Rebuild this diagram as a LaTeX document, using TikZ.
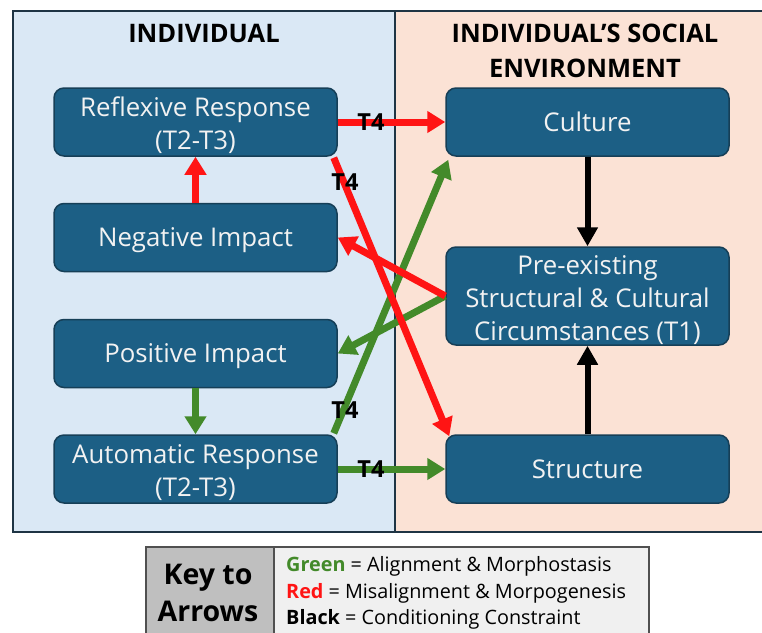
\documentclass[tikz,border=0pt]{standalone}
\usepackage{fontspec}
\setmainfont{Open Sans}
\usetikzlibrary{arrows.meta}

\definecolor{indivbg}{HTML}{DAE8F5}
\definecolor{socialbg}{HTML}{FBE2D5}
\definecolor{framecol}{HTML}{1E3444}
\definecolor{boxfill}{HTML}{1C5F85}
\definecolor{boxline}{HTML}{163F57}
\definecolor{boxtext}{HTML}{F2F2F2}
\definecolor{arrred}{HTML}{FF1414}
\definecolor{arrgreen}{HTML}{438A2A}
\definecolor{keygray}{HTML}{BFBFBF}
\definecolor{keylight}{HTML}{F0F0F0}
\definecolor{keyline}{HTML}{505050}

% invisible struts that lower box text a little
\newcommand{\lowerstrut}{\rule{0pt}{27pt}}
\newcommand{\smallstrut}{\rule{0pt}{25pt}}

\tikzset{
  stagebox/.style={draw=boxline, line width=1.5pt, fill=boxfill, rounded corners=10pt,
    text=boxtext, align=center, minimum width=283pt, minimum height=68pt,
    inner sep=0pt, font=\fontsize{25.8}{33}\selectfont},
  paneltitle/.style={font=\bfseries\fontsize{25.5}{35}\selectfont, align=center, inner sep=0pt},
  tlabel/.style={font=\bfseries\fontsize{23.5}{23.5}\selectfont, text=black, inner sep=0pt},
  fat/.tip={Triangle[width=21pt,length=18pt]},
  flow/.style={line width=7pt, -{fat}},
  redflow/.style={flow, draw=arrred},
  greenflow/.style={flow, draw=arrgreen},
  blackflow/.style={line width=6pt, draw=black, -{Triangle[width=20pt,length=19pt]}},
  keytext/.style={font=\fontsize{19.8}{27}\selectfont, anchor=west, inner sep=0pt},
}

\begin{document}
\begin{tikzpicture}[x=1pt, y=-1pt]
\useasboundingbox (0,0) rectangle (762,632);
\clip (0,0) rectangle (762,632);

% two panels
\fill[indivbg] (13,11) rectangle (395,532);
\fill[socialbg] (395,11) rectangle (770,532);
\draw[framecol, line width=2pt] (13,11) rectangle (770,532);
\draw[framecol, line width=1.5pt] (395,11) -- (395,532);

\node[paneltitle] (titleL) at (204,33.5) {INDIVIDUAL};
\node[paneltitle] (titleR) at (585,51) {INDIVIDUAL’S SOCIAL\\ENVIRONMENT};

% individual side
\node[stagebox] (refl) at (195.5,122) {\lowerstrut Reflexive Response\\(T2-T3)};
\node[stagebox] (neg)  at (195.5,237.5) {\smallstrut Negative Impact};
\node[stagebox] (pos)  at (195.5,353.5) {\smallstrut Positive Impact};
\node[stagebox] (auto) at (195.5,469) {\lowerstrut Automatic Response\\(T2-T3)};

% social environment side
\node[stagebox] (cult) at (587.5,122) {Culture};
\node[stagebox, minimum height=98pt] (pre) at (587.5,296) {\lowerstrut Pre-existing\\Structural \& Cultural\\Circumstances (T1)};
\node[stagebox] (struct) at (587.5,469) {Structure};

\coordinate (reflout) at ([xshift=-4pt,yshift=-1pt]refl.south east);
\coordinate (autoout) at ([xshift=-4pt,yshift=1pt]auto.north east);
\coordinate (cultin) at ([xshift=3pt,yshift=-3pt]cult.south west);
\coordinate (structin) at ([xshift=4pt,yshift=-2pt]struct.north west);

% connectors
\draw[greenflow] (pre.west) -- (pos.east);
\draw[greenflow] (autoout) -- (cultin);
\draw[greenflow] (pos.south) -- (auto.north);
\draw[greenflow] (auto.east) -- (struct.west);
\draw[redflow] (pre.west) -- (neg.east);
\draw[redflow] (reflout) -- (structin);
\draw[redflow] (refl.east) -- (cult.west);
\draw[redflow] (neg.north) -- (refl.south);
\draw[blackflow] (cult.south) -- (pre.north);
\draw[blackflow] (struct.north) -- (pre.south);

% timing labels
\node[tlabel] (t4a) at (371,122) {T4};
\node[tlabel] (t4b) at (345,182) {T4};
\node[tlabel] (t4c) at (345,410) {T4};
\node[tlabel] (t4d) at (371,469) {T4};

% key
\filldraw[fill=keygray, draw=keyline, line width=1.5pt] (146,547) rectangle (274,640);
\filldraw[fill=keylight, draw=keyline, line width=1.5pt] (274,547) rectangle (649,640);
\node[paneltitle, font=\bfseries\fontsize{28.5}{37}\selectfont] (keyhead) at (208,593) {Key to\\Arrows};
\node[keytext] (keyg) at (286,566.5) {\textbf{\color{arrgreen}Green} = Alignment \& Morphostasis};
\node[keytext] (keyr) at (286,593) {\textbf{\color{arrred}Red} = Misalignment \& Morpogenesis};
\node[keytext] (keyb) at (286,619.5) {\textbf{Black} = Conditioning Constraint};
\end{tikzpicture}
\end{document}
